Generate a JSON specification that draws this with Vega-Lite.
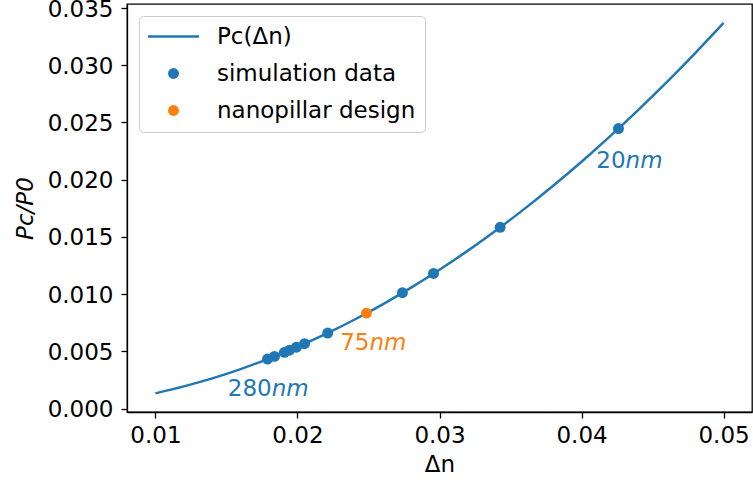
{
  "$schema": "https://vega.github.io/schema/vega-lite/v6.json",
  "width": 625,
  "height": 408,
  "autosize": "none",
  "padding": {"left": 127, "top": 4, "right": 1, "bottom": 71},
  "config": {
    "font": "DejaVu Sans",
    "view": {"stroke": "black", "strokeWidth": 1.3},
    "axis": {
      "grid": false,
      "domainColor": "black",
      "domainWidth": 1.3,
      "tickColor": "black",
      "tickWidth": 1.3,
      "tickSize": 6,
      "labelFontSize": 23,
      "labelColor": "black",
      "labelFont": "DejaVu Sans",
      "titleFont": "DejaVu Sans",
      "titleFontSize": 23,
      "titleFontWeight": "normal",
      "titleColor": "black"
    },
    "legend": {
      "labelFont": "DejaVu Sans",
      "labelFontSize": 23,
      "labelColor": "black",
      "labelLimit": 0
    }
  },
  "datasets": {
    "curve": [
      {"dn": 0.010, "pc": 0.00133, "series": "Pc(Δn)"},
      {"dn": 0.012, "pc": 0.00194, "series": "Pc(Δn)"},
      {"dn": 0.014, "pc": 0.00264, "series": "Pc(Δn)"},
      {"dn": 0.016, "pc": 0.00345, "series": "Pc(Δn)"},
      {"dn": 0.018, "pc": 0.00437, "series": "Pc(Δn)"},
      {"dn": 0.020, "pc": 0.00539, "series": "Pc(Δn)"},
      {"dn": 0.022, "pc": 0.00652, "series": "Pc(Δn)"},
      {"dn": 0.024, "pc": 0.00776, "series": "Pc(Δn)"},
      {"dn": 0.026, "pc": 0.00911, "series": "Pc(Δn)"},
      {"dn": 0.028, "pc": 0.01057, "series": "Pc(Δn)"},
      {"dn": 0.030, "pc": 0.01213, "series": "Pc(Δn)"},
      {"dn": 0.032, "pc": 0.01380, "series": "Pc(Δn)"},
      {"dn": 0.034, "pc": 0.01558, "series": "Pc(Δn)"},
      {"dn": 0.036, "pc": 0.01747, "series": "Pc(Δn)"},
      {"dn": 0.038, "pc": 0.01947, "series": "Pc(Δn)"},
      {"dn": 0.040, "pc": 0.02157, "series": "Pc(Δn)"},
      {"dn": 0.042, "pc": 0.02378, "series": "Pc(Δn)"},
      {"dn": 0.044, "pc": 0.02610, "series": "Pc(Δn)"},
      {"dn": 0.046, "pc": 0.02852, "series": "Pc(Δn)"},
      {"dn": 0.048, "pc": 0.03106, "series": "Pc(Δn)"},
      {"dn": 0.050, "pc": 0.03370, "series": "Pc(Δn)"}
    ],
    "points": [
      {"dn": 0.01789, "pc": 0.00433, "series": "simulation data"},
      {"dn": 0.01838, "pc": 0.00456, "series": "simulation data"},
      {"dn": 0.01908, "pc": 0.00491, "series": "simulation data"},
      {"dn": 0.01944, "pc": 0.00510, "series": "simulation data"},
      {"dn": 0.01993, "pc": 0.00536, "series": "simulation data"},
      {"dn": 0.02050, "pc": 0.00567, "series": "simulation data"},
      {"dn": 0.02213, "pc": 0.00660, "series": "simulation data"},
      {"dn": 0.02739, "pc": 0.01012, "series": "simulation data"},
      {"dn": 0.02958, "pc": 0.01181, "series": "simulation data"},
      {"dn": 0.03427, "pc": 0.01584, "series": "simulation data"},
      {"dn": 0.04260, "pc": 0.02447, "series": "simulation data"},
      {"dn": 0.02486, "pc": 0.00834, "series": "nanopillar design"}
    ],
    "labels": [
      {"dn": 0.04310, "pc": 0.02166, "num": "20", "unit": "nm", "series": "simulation data"},
      {"dn": 0.02507, "pc": 0.00571, "num": "75", "unit": "nm", "series": "nanopillar design"},
      {"dn": 0.01819, "pc": 0.00171, "num": "280", "unit": "nm", "series": "simulation data"}
    ]
  },
  "encoding": {
    "x": {
      "field": "dn",
      "type": "quantitative",
      "scale": {"domain": [0.008, 0.052], "nice": false, "zero": false},
      "axis": {"title": "Δn", "values": [0.01, 0.02, 0.03, 0.04, 0.05], "format": ".2f", "labelPadding": 6, "titlePadding": 6}
    },
    "y": {
      "field": "pc",
      "type": "quantitative",
      "scale": {"domain": [-0.0003, 0.03535], "nice": false, "zero": false},
      "axis": {"title": "Pc/P0", "titleFontStyle": "italic", "values": [0, 0.005, 0.01, 0.015, 0.02, 0.025, 0.03, 0.035], "format": ".3f", "labelPadding": 8, "labelOffset": 1, "titlePadding": 10}
    },
    "color": {
      "field": "series",
      "type": "nominal",
      "scale": {
        "domain": ["Pc(Δn)", "simulation data", "nanopillar design"],
        "range": ["#1f77b4", "#1f77b4", "#ff7f0e"]
      },
      "legend": {
        "title": null,
        "orient": "top-left",
        "offset": 12,
        "padding": 9,
        "strokeColor": "#cccccc",
        "fillColor": "white",
        "cornerRadius": 4,
        "symbolSize": 120,
        "symbolOffset": 14,
        "rowPadding": 13,
        "labelOffset": 32,
        "labelLimit": 0,
        "encode": {
          "symbols": {
            "update": {
              "stroke": {"scale": "color", "field": "value"},
              "strokeWidth": {"signal": "datum.value === 'Pc(Δn)' ? 2.5 : 0"}
            }
          }
        }
      }
    }
  },
  "layer": [
    {
      "data": {"name": "curve"},
      "mark": {"type": "line", "strokeWidth": 2.5, "interpolate": "monotone"}
    },
    {
      "data": {"name": "points"},
      "mark": {"type": "point", "filled": true, "opacity": 1, "size": 120},
      "encoding": {
        "shape": {
          "field": "series",
          "type": "nominal",
          "scale": {
            "domain": ["Pc(Δn)", "simulation data", "nanopillar design"],
            "range": ["M-4.65,0L4.65,0", "circle", "circle"]
          }
        }
      }
    },
    {
      "data": {"name": "labels"},
      "mark": {"type": "text", "align": "right", "baseline": "middle", "fontSize": 23},
      "encoding": {"text": {"field": "num"}}
    },
    {
      "data": {"name": "labels"},
      "mark": {"type": "text", "align": "left", "baseline": "middle", "fontSize": 23, "fontStyle": "italic"},
      "encoding": {"text": {"field": "unit"}}
    }
  ]
}
